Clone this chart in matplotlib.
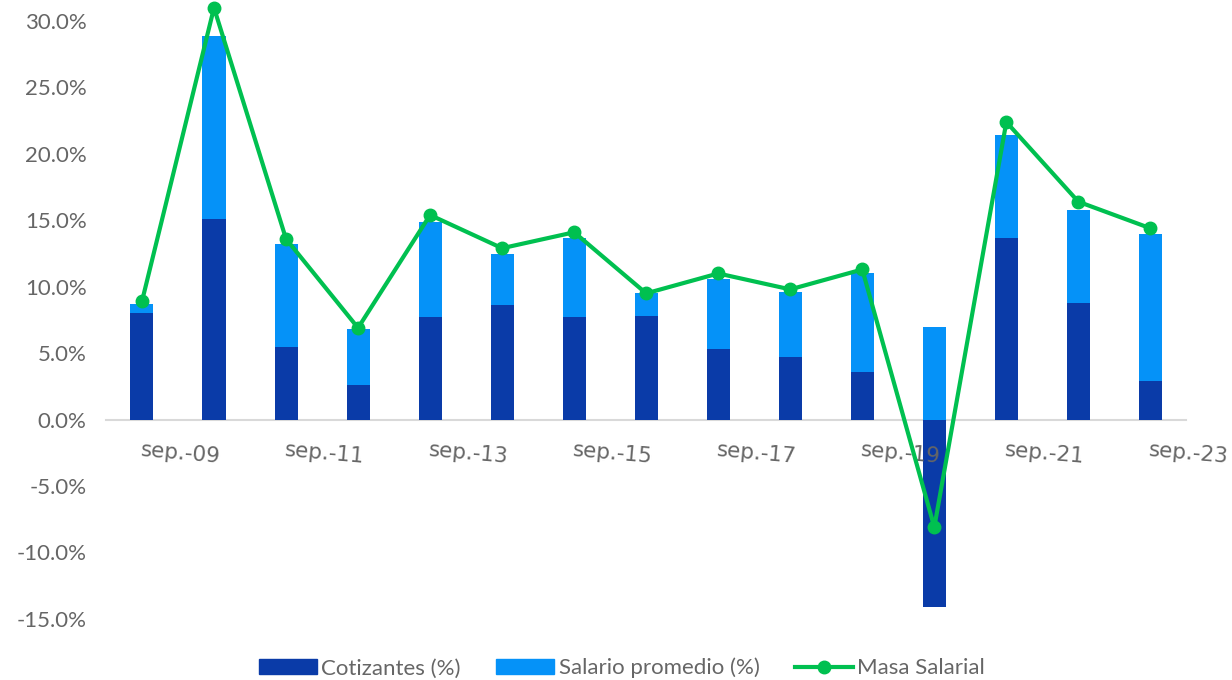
import numpy as np
import matplotlib.pyplot as plt
from matplotlib.lines import Line2D
from matplotlib.patches import Patch

plt.rcParams['font.family'] = ['Lato', 'DejaVu Sans']

periods = ['sep.-09', 'sep.-10', 'sep.-11', 'sep.-12', 'sep.-13', 'sep.-14', 'sep.-15', 'sep.-16',
           'sep.-17', 'sep.-18', 'sep.-19', 'sep.-20', 'sep.-21', 'sep.-22', 'sep.-23']
cotizantes = [8.0, 15.1, 5.5, 2.6, 7.7, 8.6, 7.7, 7.8, 5.3, 4.7, 3.6, -14.1, 13.7, 8.8, 2.9]
salario = [0.7, 13.8, 7.7, 4.2, 7.2, 3.9, 6.0, 1.7, 5.3, 4.9, 7.4, 7.0, 7.7, 7.0, 11.1]
masa = [8.9, 31.0, 13.6, 6.9, 15.4, 12.9, 14.1, 9.5, 11.0, 9.8, 11.3, -8.1, 22.4, 16.4, 14.4]

dark = '#0A3BA8'
light = '#0592F8'
green = '#00C050'
txt = '#666666'

cot = np.array(cotizantes)
sal = np.array(salario)
x = np.arange(len(periods))
# salary stacks on top of positive cotizantes, otherwise starts from zero
sal_bottom = np.where(cot > 0, cot, 0)

fig = plt.figure(figsize=(12.32, 6.8), dpi=100)
ax = fig.add_axes([0.086, 0.09, 0.877, 0.879])

w = 0.32
ax.bar(x, cot, w, color=dark, zorder=2)
ax.bar(x, sal, w, bottom=sal_bottom, color=light, zorder=2)
ax.plot(x, masa, color=green, lw=3, marker='o', ms=9, zorder=3, clip_on=False)

ax.set_xlim(-0.5, len(periods) - 0.5)
ax.set_ylim(-15, 30)
ax.set_yticks(np.arange(-15, 31, 5))
ax.set_yticklabels([f'{v:.1f}%' for v in np.arange(-15, 31, 5)])
ax.tick_params(axis='y', length=0, labelsize=16, labelcolor=txt, pad=14)

for s in ['top', 'right', 'left']:
    ax.spines[s].set_visible(False)
ax.spines['bottom'].set_position(('data', 0))
ax.spines['bottom'].set_color('#D9D9D9')
ax.spines['bottom'].set_linewidth(1.5)
ax.spines['bottom'].set_zorder(1)

ax.set_xticks(x)
ax.set_xticklabels([])
ax.tick_params(axis='x', length=0)
for i in range(0, len(periods), 2):
    ax.annotate(periods[i], (x[i], 0), xytext=(-1, -22), textcoords='offset points',
                ha='left', va='center', rotation=-5, rotation_mode='anchor',
                fontsize=15.5, color=txt, zorder=2.5, family='DejaVu Sans')

handles = [Patch(color=dark), Patch(color=light),
           Line2D([0], [0], color=green, lw=3, marker='o', ms=9)]
fig.legend(handles, ['Cotizantes (%)', 'Salario promedio (%)', 'Masa Salarial'],
           loc='lower center', bbox_to_anchor=(0.505, -0.027), ncol=3, frameon=False,
           fontsize=16, labelcolor=txt, handlelength=2.6, handletextpad=0.2, columnspacing=1.6)

fig.savefig('out.png', dpi=100)
